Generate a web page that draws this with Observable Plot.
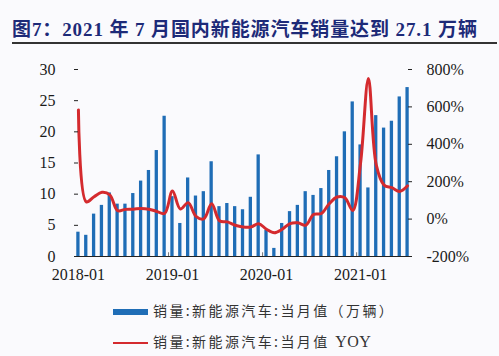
<!DOCTYPE html>
<html><head><meta charset="utf-8">
<script src="https://cdn.jsdelivr.net/npm/d3@7"></script>
<script src="https://cdn.jsdelivr.net/npm/@observablehq/plot@0.6"></script>
<style>
html,body{margin:0;padding:0;background:#fafafd;}
#wrap{position:relative;width:499px;height:356px;overflow:hidden;background:#fafafd;}
#title{position:absolute;left:12px;top:14px;font-family:"Liberation Serif","Noto Sans CJK SC",serif;font-weight:bold;font-size:19px;color:#1d2a78;white-space:nowrap;letter-spacing:0.9px;}
#rule{position:absolute;left:12px;top:42px;width:485px;height:1.5px;background:#333;}
#chart{position:absolute;left:0;top:48px;}
#chart svg text{font-family:"Liberation Serif","Times New Roman",serif !important;}
.leg{position:absolute;left:113px;height:20px;font-family:"Noto Sans CJK SC",serif;font-size:14px;color:#333;white-space:nowrap;letter-spacing:2.4px;}
.sw{display:inline-block;width:35px;vertical-align:middle;margin-right:5px;}
</style></head>
<body><div id="wrap">
<div id="title">图7：2021 年 7 月国内新能源汽车销量达到 27.1 万辆</div>
<div id="rule"></div>
<div id="chart"></div>
<div class="leg" style="top:300px"><span class="sw" style="height:6px;background:#1f6db6"></span>销量:新能源汽车:当月值（万辆）</div>
<div class="leg" style="top:331px"><span class="sw" style="height:2.5px;background:#d42a2e"></span>销量:新能源汽车:当月值 <span style="font-family:'Liberation Serif',serif;font-size:16px;letter-spacing:0.5px">YOY</span></div>
</div>
<script>
const months = [
 "2018-01","2018-02","2018-03","2018-04","2018-05","2018-06","2018-07","2018-08","2018-09","2018-10","2018-11","2018-12",
 "2019-01","2019-02","2019-03","2019-04","2019-05","2019-06","2019-07","2019-08","2019-09","2019-10","2019-11","2019-12",
 "2020-01","2020-02","2020-03","2020-04","2020-05","2020-06","2020-07","2020-08","2020-09","2020-10","2020-11","2020-12",
 "2021-01","2021-02","2021-03","2021-04","2021-05","2021-06","2021-07"];
const sales = [
 3.9,3.4,6.8,8.2,10.2,8.4,8.4,10.1,12.1,13.8,17.0,22.5,
 9.6,5.3,12.6,9.7,10.4,15.2,8.0,8.5,8.0,7.5,9.5,16.3,
 4.2,1.3,5.3,7.2,8.2,10.4,9.8,10.9,13.8,16.0,20.0,24.8,
 17.9,11.0,22.6,20.6,21.7,25.6,27.1];
const yoy = [
 584,92,120,143,130,45,52,53,57,53,41,30,
 150,54,88,15,1,82,-9,-15,-33,-42,-42,-25,
 -54,-73,-54,-24,-20,-33,25,30,82,118,114,46,
 300,752,290,182,168,148,178];
const leftTicks = [0,5,10,15,20,25,30];
const rightTicks = [-200,0,200,400,600,800];
const xTickLabels = ["2018-01","2019-01","2020-01","2021-01"];

const data = months.map((m,i)=>({month:m, sales:sales[i], yoy:yoy[i]}));
const toLeft = d3.scaleLinear([-200,800],[0,30]);
const font = '"Liberation Serif", "Times New Roman", serif';

const chart = Plot.plot({
  width: 499, height: 240,
  marginTop: 21, marginBottom: 32, marginLeft: 74, marginRight: 88,
  style: {background: "transparent", fontFamily: font, fontSize: "16px", color: "#1a1a1a"},
  x: {type: "band", domain: months, paddingInner: 0.58, paddingOuter: 0.29, align: 0.5},
  y: {domain: [0,30]},
  marks: [
    Plot.barY(data, {x: "month", y: "sales", fill: "#1f6db6"}),
    Plot.ruleX(xTickLabels.slice(1), {x: d=>d, y1: 0, y2: 0.6, dx: -3.92, stroke: "#777", strokeWidth: 1}),
    Plot.lineY(data, {x: "month", y: d => toLeft(d.yoy), stroke: "#d42a2e", strokeWidth: 3, curve: "catmull-rom"}),
    Plot.axisY(leftTicks, {anchor: "left", tickSize: 0, tickPadding: 19, label: null, fontSize: 16, fill: "#1a1a1a"}),
    Plot.axisY(leftTicks, {anchor: "left", tickSize: -4, text: null, label: null, line: true, stroke: "#222"}),
    Plot.axisY(rightTicks.map(v => toLeft(v)), {anchor: "right", tickSize: 0, tickPadding: 15, textAnchor: "start", label: null, fontSize: 16, fill: "#1a1a1a", tickFormat: d => Math.round(toLeft.invert(d)) + "%"}),
    Plot.axisY(rightTicks.map(v => toLeft(v)), {anchor: "right", tickSize: -4, text: null, label: null, line: true, stroke: "#222"}),
    Plot.axisX(xTickLabels, {anchor: "bottom", tickSize: 0, tickPadding: 12, label: null, fontSize: 16, fill: "#1a1a1a"}),
    Plot.ruleY([0], {stroke: "#222"})
  ]
});
document.getElementById("chart").appendChild(chart);
</script>
</body></html>
